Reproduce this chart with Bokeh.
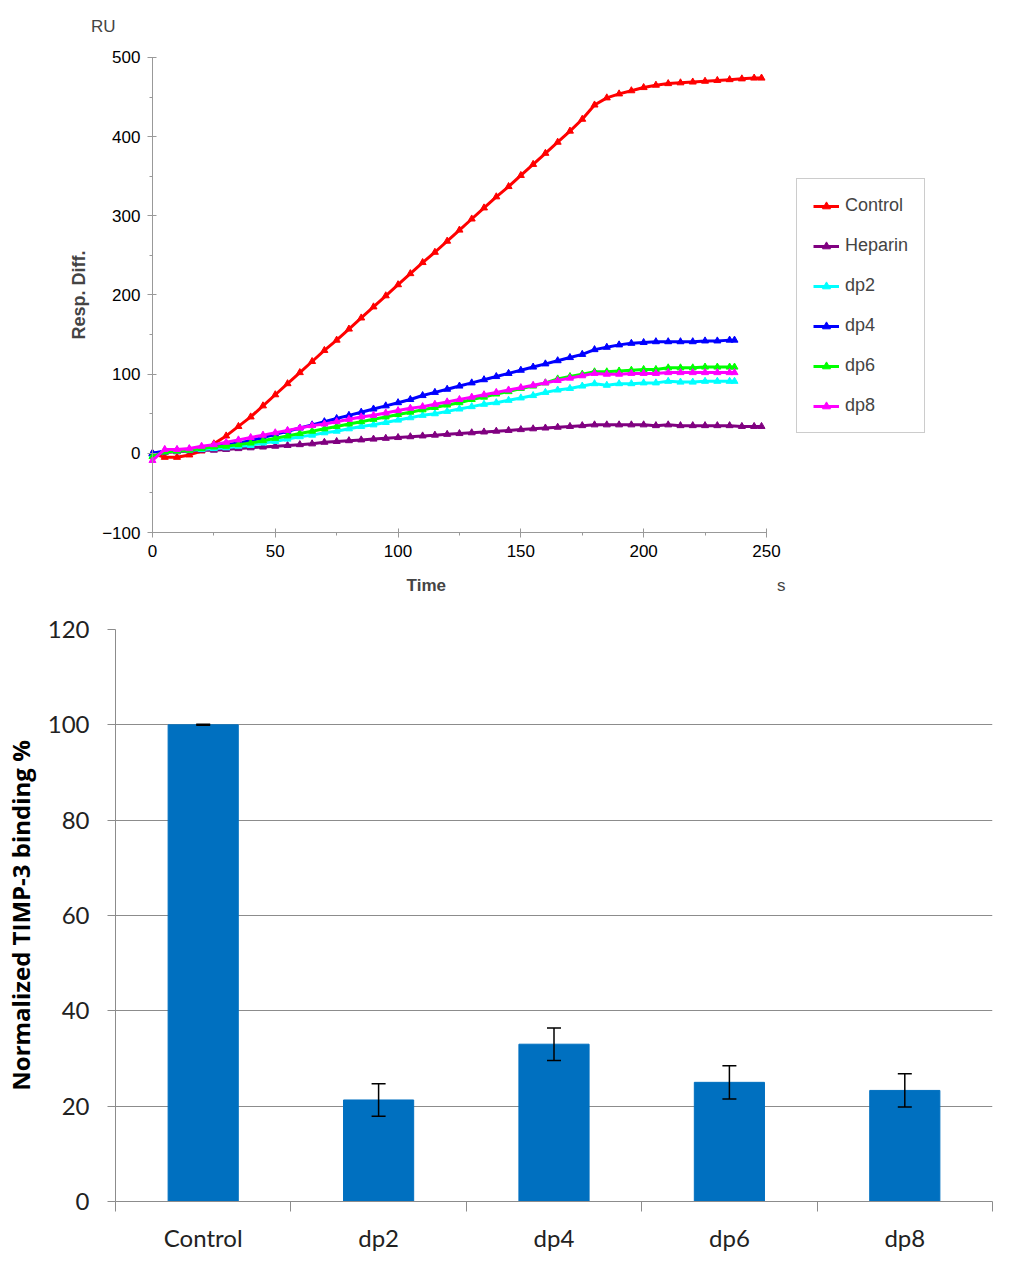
from bokeh.plotting import figure
from bokeh.layouts import column, row
from bokeh.models import (Legend, LegendItem, Label, SingleIntervalTicker, FixedTicker,
                          ColumnDataSource, Whisker, TeeHead)
from bokeh.embed import file_html
from bokeh.resources import INLINE

time_long = list(range(0, 250, 5)) + [248]    # Control, Heparin
time_short = list(range(0, 240, 5)) + [237]   # dp2 .. dp8

control = [0, -5, -5, -2, 3, 12, 22, 34, 46, 60,
           74, 88, 102, 116, 130, 143, 157, 171, 185, 199,
           213, 227, 241, 254, 268, 282, 296, 310, 324, 337,
           351, 365, 379, 393, 407, 422, 440, 449, 454, 458,
           462, 465, 467, 468, 469, 470, 471, 472, 473, 474, 474]
heparin = [0, 1, 2, 3, 4, 4, 5, 6, 7, 8,
           9, 10, 11, 12, 14, 15, 16, 17, 18, 19,
           20, 21, 22, 23, 24, 25, 26, 27, 28, 29,
           30, 31, 32, 33, 34, 35, 36, 36, 36, 36,
           36, 35, 36, 35, 35, 35, 35, 35, 34, 34, 34]
dp2 = [-2, 2, 3, 4, 5, 6, 7, 9, 10, 13,
       15, 18, 21, 23, 26, 28, 31, 34, 36, 39,
       42, 45, 48, 50, 53, 56, 59, 62, 64, 67,
       70, 73, 77, 80, 82, 85, 88, 86, 88, 88,
       89, 89, 91, 90, 90, 91, 91, 91, 91]
dp4 = [0, 3, 4, 5, 7, 9, 11, 13, 16, 20,
       24, 28, 32, 36, 40, 44, 48, 52, 56, 60,
       64, 68, 73, 77, 81, 85, 89, 93, 97, 101,
       105, 109, 113, 117, 121, 125, 131, 134, 137, 139,
       140, 141, 141, 141, 141, 142, 142, 143, 143]
dp6 = [-4, 2, 3, 4, 6, 8, 9, 11, 13, 16,
       19, 22, 25, 28, 31, 34, 37, 40, 43, 46,
       49, 52, 55, 58, 61, 64, 68, 71, 75, 78,
       82, 85, 89, 94, 97, 100, 103, 103, 104, 105,
       106, 106, 108, 108, 108, 109, 109, 109, 109]
dp8 = [-9, 5, 5, 6, 9, 11, 14, 17, 20, 23,
       26, 29, 32, 35, 37, 40, 43, 46, 48, 51,
       54, 57, 59, 62, 65, 68, 71, 74, 77, 80,
       83, 86, 89, 92, 95, 98, 101, 100, 100, 101,
       101, 101, 102, 102, 102, 102, 102, 102, 102]

# normalized binding (%)
categories = ["Control", "dp2", "dp4", "dp6", "dp8"]
binding = [100, 21.3, 33.0, 25.0, 23.3]
binding_err = [0.1, 3.4, 3.4, 3.5, 3.5]

ARIAL = "Liberation Sans"
GREY = "#999999"

# --- top: sensorgram ---
# the frame covers nearly the whole figure so legend and loose texts sit inside it;
# both axes are pinned (fixed_location) and cut to their data extent with bounds
p1 = figure(width=1008, height=607, x_range=(-46.0, 316.4), y_range=(-184.6, 560.6),
            output_backend="svg", toolbar_location=None,
            min_border_left=39, min_border_right=79, min_border_top=9, min_border_bottom=8)
p1.outline_line_color = None
p1.grid.visible = False

series = [("Control", time_long, control, "#FF0000"),
          ("Heparin", time_long, heparin, "#800080"),
          ("dp2", time_short, dp2, "#00FFFF"),
          ("dp4", time_short, dp4, "#0000FF"),
          ("dp6", time_short, dp6, "#00FF00"),
          ("dp8", time_short, dp8, "#FF00FF")]
items = []
for name, t, v, c in series:
    ln = p1.line(t, v, line_color=c, line_width=3)
    mk = p1.scatter(t, v, marker="triangle", size=7, color=c)
    items.append(LegendItem(label=name, renderers=[ln, mk]))

legend = Legend(items=items, location=(757, 166), margin=0, padding=16, spacing=19,
                glyph_width=26, glyph_height=20, label_height=20, label_standoff=6,
                label_text_font=ARIAL, label_text_font_size="18px",
                border_line_color=GREY, border_line_width=1)
p1.add_layout(legend, "center")

p1.xaxis.ticker = SingleIntervalTicker(interval=50, num_minor_ticks=2)
p1.yaxis.ticker = SingleIntervalTicker(interval=100, num_minor_ticks=2)
p1.xaxis.bounds = (0, 250)
p1.xaxis.fixed_location = -100
p1.yaxis.bounds = (-100, 500)
p1.yaxis.fixed_location = 0
for ax in (p1.xaxis, p1.yaxis):
    ax.axis_line_color = GREY
    ax.major_tick_line_color = GREY
    ax.minor_tick_line_color = GREY
    ax.major_tick_in = 4
    ax.major_tick_out = 5
    ax.minor_tick_in = 0
    ax.minor_tick_out = 3
    ax.major_label_text_font = ARIAL
    ax.major_label_text_font_size = "17px"
    ax.major_label_text_color = "black"
p1.xaxis.major_label_standoff = 7
p1.yaxis.major_label_standoff = 7
p1.yaxis.axis_label = "Resp. Diff."
p1.yaxis.axis_label_text_font = ARIAL
p1.yaxis.axis_label_text_font_style = "bold"
p1.yaxis.axis_label_text_font_size = "18px"
p1.yaxis.axis_label_standoff = 10

p1.add_layout(Label(x=-20, y=539, text="RU", text_align="center", text_baseline="middle",
                    text_font=ARIAL, text_font_size="17px"))
p1.add_layout(Label(x=111.5, y=-167, text="Time", text_align="center", text_baseline="middle",
                    text_font=ARIAL, text_font_size="17px", text_font_style="bold"))
p1.add_layout(Label(x=256, y=-167, text="s", text_align="center", text_baseline="middle",
                    text_font=ARIAL, text_font_size="17px"))

# --- bottom: normalized binding bars ---
CAL = "Lato"
xpos = [i + 0.5 for i in range(len(categories))]
p2 = figure(width=1008, height=651, x_range=(0, 5), y_range=(0, 120),
            output_backend="svg", toolbar_location=None,
            min_border_left=114, min_border_right=16, min_border_top=22, min_border_bottom=57)
p2.outline_line_color = None
p2.vbar(x=xpos, top=binding, width=0.4, color="#0070C0")

src = ColumnDataSource(data=dict(x=xpos,
                                 upper=[b + e for b, e in zip(binding, binding_err)],
                                 lower=[b - e for b, e in zip(binding, binding_err)]))
p2.add_layout(Whisker(source=src, base="x", upper="upper", lower="lower", level="annotation",
                      line_color="black", line_width=1.5,
                      upper_head=TeeHead(size=14, line_color="black", line_width=1.5),
                      lower_head=TeeHead(size=14, line_color="black", line_width=1.5)))

p2.xgrid.visible = False
p2.ygrid.grid_line_color = "#8c8c8c"
p2.yaxis.ticker = SingleIntervalTicker(interval=20, num_minor_ticks=0)
p2.xaxis.ticker = FixedTicker(ticks=xpos, minor_ticks=[0, 1, 2, 3, 4, 5])
p2.xaxis.major_label_overrides = {x: c for x, c in zip(xpos, categories)}
for ax in (p2.xaxis, p2.yaxis):
    ax.axis_line_color = "#8c8c8c"
    ax.major_tick_line_color = "#8c8c8c"
    ax.minor_tick_line_color = "#8c8c8c"
    ax.major_label_text_font = CAL
    ax.major_label_text_font_size = "24px"
    ax.major_label_text_color = "#222222"
p2.xaxis.major_tick_in = 0
p2.xaxis.major_tick_out = 0
p2.xaxis.minor_tick_in = 0
p2.xaxis.minor_tick_out = 10
p2.xaxis.major_label_standoff = 11
p2.yaxis.major_tick_in = 0
p2.yaxis.major_tick_out = 8
p2.yaxis.major_label_standoff = 18
p2.yaxis.axis_label = "Normalized TIMP-3 binding %"
p2.yaxis.axis_label_text_font = "Open Sans"
p2.yaxis.axis_label_text_font_style = "bold"
p2.yaxis.axis_label_text_font_size = "24px"
p2.yaxis.axis_label_text_color = "black"
p2.yaxis.axis_label_standoff = 8

layout = column(row(p1), row(p2))
open("out.html", "w").write(file_html(layout, INLINE))
